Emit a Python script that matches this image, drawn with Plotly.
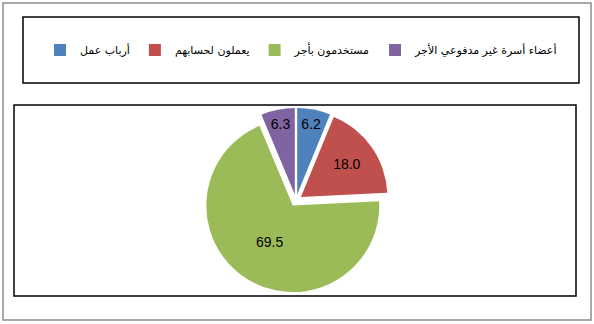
import plotly.graph_objects as go

labels = ["أرباب عمل", "يعملون لحسابهم", "مستخدمون بأجر", "أعضاء أسرة غير مدفوعي الأجر"]
values = [6.2, 18.0, 69.5, 6.3]
colors = ["#4F81BD", "#C0504D", "#9BBB59", "#8064A2"]

W, H = 594, 324

def px(x0, y0, x1, y1):
    return dict(x0=x0 / W, x1=x1 / W, y0=1 - y1 / H, y1=1 - y0 / H)

fig = go.Figure(go.Pie(
    labels=labels,
    values=values,
    text=[f"{v:.1f}" for v in values],
    textinfo="text",
    textposition="inside",
    insidetextorientation="horizontal",
    textfont=dict(family="Liberation Sans, Arial", size=14, color="black"),
    marker=dict(colors=colors, line=dict(width=0)),
    sort=False,
    direction="clockwise",
    rotation=0,
    pull=[0.07, 0.07, 0.07, 0.07],
    hoverinfo="label+value",
    domain=dict(x=[196 / W, 396 / W], y=[1 - 293 / H, 1 - 108 / H]),
))

shapes = [
    dict(type="rect", xref="paper", yref="paper", line=dict(color="#8c8c8c", width=1.5), **px(3, 3, 591, 320)),
    dict(type="rect", xref="paper", yref="paper", line=dict(color="black", width=1.5), **px(23, 17, 579, 83)),
    dict(type="rect", xref="paper", yref="paper", line=dict(color="black", width=1.5), **px(14, 105, 576, 296)),
]

fig.update_layout(
    width=W, height=H,
    margin=dict(l=0, r=0, t=0, b=0),
    paper_bgcolor="white",
    plot_bgcolor="white",
    shapes=shapes,
    showlegend=True,
    legend=dict(
        orientation="h",
        x=40 / W, xanchor="left",
        y=1 - 50 / H, yanchor="middle",
        font=dict(family="DejaVu Sans, Liberation Sans, Arial", size=11, color="black"),
        bgcolor="rgba(0,0,0,0)",
        itemwidth=30,
        traceorder="normal",
    ),
    uniformtext=dict(minsize=13, mode="show"),
)

fig.write_html("out.html")
